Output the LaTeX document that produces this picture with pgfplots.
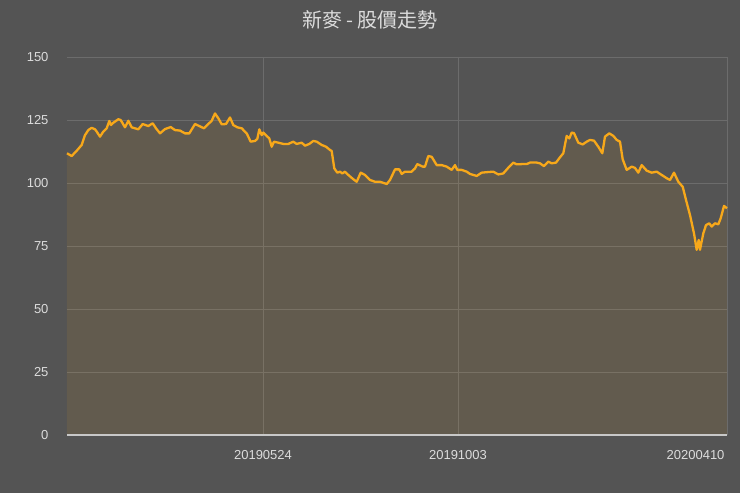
\documentclass[border=0pt]{standalone}
\usepackage{pgfplots}
\usepackage{pgfplotstable}
\pgfplotsset{compat=1.18}
\usepackage{fontspec}
\setmainfont{Liberation Sans}
\newfontfamily\cjk{Noto Sans CJK TC}

\definecolor{bgc}{RGB}{84,84,84}
\definecolor{gridc}{RGB}{108,108,108}
\definecolor{txtc}{RGB}{220,220,220}
\definecolor{linec}{RGB}{247,168,26}
\definecolor{basec}{RGB}{200,200,200}

% x = horizontal position of the trading day, y = close price
\pgfplotstableread{
x v
67 111.8
71.7 110.7
76.7 112.8
81.7 115.1
85 119
88.3 121
91.7 121.9
95 121.3
96.7 120.4
100 118.4
103.3 120.4
106.7 121.7
109.3 124.6
111 123
113.3 123.9
118.3 125.3
120.7 125
125 122.1
128.3 124.7
131.7 122.1
138.3 121.3
142.7 123.4
148.3 122.6
152.7 123.7
156 121.7
160 119.7
165 121.4
170.7 122.2
175 121
180 120.8
185 119.7
189.3 119.7
195 123.4
199.3 122.6
204 121.7
208.3 123.4
211.7 124.7
215 127.6
218.3 125.7
221.7 123.3
226 123.4
230 126
233.3 123
237.3 122.1
241.7 121.7
246.7 119.7
250.7 116.4
255 116.7
257.3 117.5
259.3 121.3
261.7 119
263.3 120
266.7 118.7
269.3 117.7
271.7 114.4
274 116.4
278.3 116
283.3 115.5
288.3 115.5
293.3 116.4
296.7 115.5
301.7 116
305 114.8
309.3 115.5
313.3 116.7
316.7 116.4
321.7 115.1
326 114.4
330 113.1
331.7 112.7
334.3 105.8
337.3 104.1
340 104.5
342.3 103.8
345 104.5
348.3 103.2
353.3 101.5
356.7 100.5
360.7 104.1
365 103.2
370 101.2
375 100.5
380 100.5
386.7 99.6
390 101.2
395 105.4
399.3 105.4
401.7 103.6
405 104.5
411.7 104.5
415 105.8
417.3 107.5
422.7 106.5
425 106.5
428.3 110.7
431.7 110.4
436.7 107.1
441.7 107.1
446.7 106.5
451.7 105.2
455 107.1
457.3 105.2
461.7 105.2
466.7 104.5
470 103.6
476.7 102.8
481.7 104.1
486.7 104.3
493.3 104.5
498.3 103.4
503.3 103.8
509.3 106.5
513.3 108.1
516.7 107.4
521.7 107.5
526.7 107.5
530 108.1
536.7 108.1
540 107.8
544 106.7
548.3 108.5
551.7 107.8
556 108.1
560 110.2
563.3 111.8
566.7 118.7
569.3 117.7
571.7 120
574 119.8
578.3 116
582.7 115.3
586.7 116.4
590 117.1
594 116.8
598.3 114.4
602.3 111.8
605 118.4
609.3 119.7
613.3 118.7
616.7 117.1
620 116.4
622.7 109.4
626.7 105.2
631.7 106.5
635 106
638.3 104.1
641.7 107.1
646.7 104.9
651.7 104.1
656.7 104.5
661.7 103.2
666.7 101.9
670 101.2
674 104.1
678.3 100.5
682.7 98.5
686 93.3
690 87.3
694 80
696.7 73.5
698.7 77.4
700 73.5
703.3 80
706 83.3
709.3 84
711.7 82.7
715 84
718.3 83.6
720.7 86
724 90.9
727 90
}\prices

\begin{document}
\begin{tikzpicture}
\fill[bgc] (-67bp,-58bp) rectangle (673bp,435bp);
\begin{axis}[
    at={(0,0)}, anchor=south west,
    scale only axis,
    width=660bp, height=378bp,
    xmin=67, xmax=727, ymin=0, ymax=150,
    ytick={0,25,50,75,100,125,150},
    xtick={263,458},
    xticklabels={20190524,20191003},
    extra x ticks={727},
    extra x tick labels={20200410},
    extra x tick style={xticklabel style={anchor=north east, xshift=1bp}},
    grid=major,
    major grid style={gridc, line width=0.8bp},
    major tick length=0pt,
    axis line style={draw=none},
    tick label style={txtc, font=\fontsize{13bp}{15bp}\selectfont},
    xticklabel style={yshift=-12bp},
    yticklabel style={xshift=-15bp},
    /pgf/number format/assume math mode=true,
    clip=false,
]
\addplot[draw=none, fill=linec, fill opacity=0.09] table[x=x, y=v] {\prices} \closedcycle;
\addplot[linec, line width=2.3bp, line join=round] table[x=x, y=v] {\prices};
\draw[basec, line width=1.6bp] (axis cs:67,0) -- (axis cs:727,0);
\node[txtc, font=\cjk\fontsize{20bp}{22bp}\selectfont] at (axis cs:370,150) [yshift=37bp] {新麥 - 股價走勢};
\end{axis}
\pgfresetboundingbox
\path (-67bp,-58bp) rectangle (673bp,435bp);
\end{tikzpicture}
\end{document}
